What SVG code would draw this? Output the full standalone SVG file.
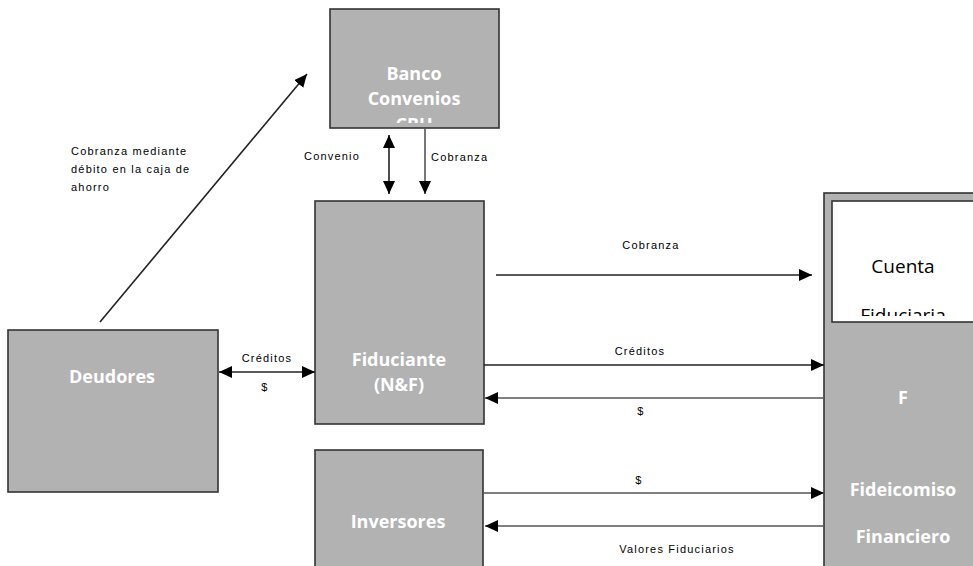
<svg xmlns="http://www.w3.org/2000/svg" width="973" height="566" viewBox="0 0 973 566">
<style>
.box{fill:#b2b2b2;stroke:#333;stroke-width:1.6}
.inner{fill:#fff;stroke:#333;stroke-width:1.6}
.t{font-family:"Open Sans","Noto Sans",sans-serif;font-weight:bold;font-size:18px;fill:#fff;text-anchor:middle}
.tk{font-family:"Open Sans","Noto Sans",sans-serif;font-size:19px;fill:#000;text-anchor:middle}
.lb{font-family:"Liberation Sans",Arial,sans-serif;font-size:11px;letter-spacing:1.2px;fill:#000}
.c{text-anchor:middle}
.ln{stroke:#222;stroke-width:1.6;fill:none}
.lg{stroke:#555;stroke-width:1.6;fill:none}
</style>
<defs>
<marker id="ah" markerUnits="userSpaceOnUse" markerWidth="14" markerHeight="12" refX="13" refY="6" orient="auto-start-reverse">
<path d="M0,0 L13,6 L0,12 Z" fill="#000"/>
</marker>
<clipPath id="cb"><rect x="330" y="9" width="169" height="114"/></clipPath>
<clipPath id="ci"><rect x="832" y="201" width="150" height="115"/></clipPath>
</defs>

<g id="banco">
<rect class="box" x="330" y="9" width="169" height="119"/>
<g clip-path="url(#cb)">
<text class="t" x="414" y="80">Banco</text>
<text class="t" x="414" y="105">Convenios</text>
<text class="t" x="414" y="131">CBU</text>
</g>
</g>

<g id="fiduciante">
<rect class="box" x="315" y="201" width="169" height="223"/>
<text class="t" x="399" y="366">Fiduciante</text>
<text class="t" x="399" y="391">(N&amp;F)</text>
</g>

<g id="deudores">
<rect class="box" x="8" y="330" width="210" height="162"/>
<text class="t" x="112" y="383">Deudores</text>
</g>

<g id="inversores">
<rect class="box" x="315" y="450" width="168" height="130"/>
<text class="t" x="398" y="528">Inversores</text>
</g>

<g id="fideicomiso">
<rect class="box" x="824" y="193" width="160" height="390"/>
<rect class="inner" x="832" y="201" width="150" height="121"/>
<g clip-path="url(#ci)">
<text class="tk" x="903" y="273">Cuenta</text>
<text class="tk" x="903" y="322">Fiduciaria</text>
</g>
<text class="t" x="903" y="404">F</text>
<text class="t" x="903" y="496">Fideicomiso</text>
<text class="t" x="903" y="543">Financiero</text>
</g>

<g id="connectors">
<line class="ln" x1="100" y1="322" x2="307" y2="74" marker-end="url(#ah)"/>
<line class="ln" x1="389" y1="135" x2="389" y2="194" marker-start="url(#ah)" marker-end="url(#ah)"/>
<line class="lg" x1="425" y1="128" x2="425" y2="194" marker-end="url(#ah)"/>
<line class="ln" x1="219" y1="372" x2="315" y2="372" marker-start="url(#ah)" marker-end="url(#ah)"/>
<line class="ln" x1="496" y1="275" x2="812" y2="275" marker-end="url(#ah)"/>
<line class="ln" x1="484" y1="365" x2="824" y2="365" marker-end="url(#ah)"/>
<line class="lg" x1="824" y1="398" x2="485" y2="398" marker-end="url(#ah)"/>
<line class="lg" x1="484" y1="493" x2="824" y2="493" marker-end="url(#ah)"/>
<line class="lg" x1="824" y1="526" x2="485" y2="526" marker-end="url(#ah)"/>
</g>

<g id="labels">
<text class="lb" x="71" y="155">Cobranza mediante</text>
<text class="lb" x="71" y="173">débito en la caja de</text>
<text class="lb" x="71" y="191">ahorro</text>
<text class="lb" x="304" y="160">Convenio</text>
<text class="lb" x="431" y="161">Cobranza</text>
<text class="lb c" x="267" y="362">Créditos</text>
<text class="lb c" x="265" y="391">$</text>
<text class="lb c" x="651" y="249">Cobranza</text>
<text class="lb c" x="640" y="355">Créditos</text>
<text class="lb c" x="641" y="415">$</text>
<text class="lb c" x="639" y="484">$</text>
<text class="lb c" x="677" y="553">Valores Fiduciarios</text>
</g>
</svg>
